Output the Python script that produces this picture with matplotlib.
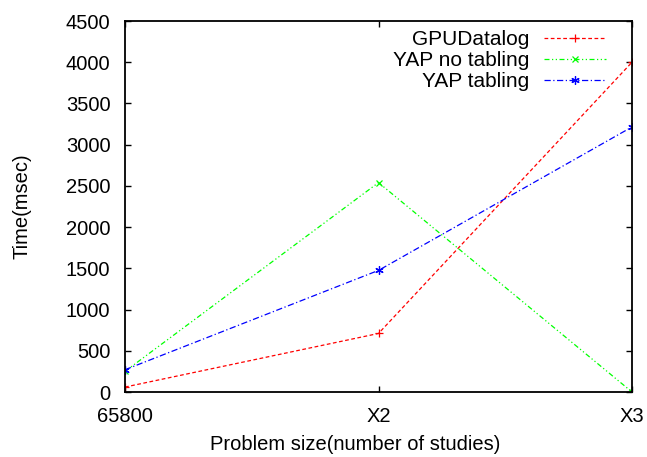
import matplotlib
matplotlib.use("Agg")
import matplotlib.pyplot as plt

categories = ["65800", "X2", "X3"]
gpu = [60, 710, 4000]
yap_no = [250, 2540, 0]
yap_tab = [270, 1475, 3215]

plt.rcParams['font.family'] = ['Liberation Sans', 'DejaVu Sans']
W, H = 647, 457
L, R, T, B = 125, 632, 21, 392
fig = plt.figure(figsize=(W/100, H/100), dpi=100)
ax = fig.add_axes([L/W, 1-B/H, (R-L)/W, (B-T)/H])
x = list(range(len(categories)))
ax.plot(x, gpu, color='#ff0000', lw=0.9, ls=(0, (3, 2)), marker='+', ms=6, mew=0.9, label='GPUDatalog')
ax.plot(x, yap_no, color='#00ff00', lw=0.9, ls=(0, (4, 2, 1, 2, 1, 2)), marker='x', ms=5, mew=0.9, label='YAP no tabling')
ax.plot(x, yap_tab, color='#0000ff', lw=0.9, ls=(0, (5, 2, 1, 2)), marker=(6, 2, 0), ms=6, mew=0.9, label='YAP tabling')
ax.set_xlim(0, 2)
ax.set_ylim(0, 4500)
ax.set_xticks(x)
ax.set_xticklabels(categories)
ax.set_yticks(range(0, 4501, 500))
ax.tick_params(direction='in', top=True, right=True, labelsize=14.5, length=4.5, width=1, pad=10.5)
for s in ax.spines.values():
    s.set_linewidth(1.3)
ax.set_xlabel('Problem size(number of studies)', fontsize=14.5)
ax.xaxis.set_label_coords((355-L)/(R-L), (B-445)/(B-T))
ax.xaxis.label.set_va('center')
ax.set_ylabel('Time(msec)', fontsize=14.5)
ax.yaxis.set_label_coords((22-L)/(R-L), 0.5)
ax.yaxis.label.set_va('center')
leg = ax.legend(loc='upper right', bbox_to_anchor=((606-L)/(R-L), (B-30)/(B-T)),
                frameon=False, markerfirst=False, fontsize=15,
                handlelength=3.0, borderaxespad=0, borderpad=0, labelspacing=0.1,
                handletextpad=0.7)
for t in leg.get_texts():
    t.set_ha('right')
fig.savefig('out.png', dpi=100)
